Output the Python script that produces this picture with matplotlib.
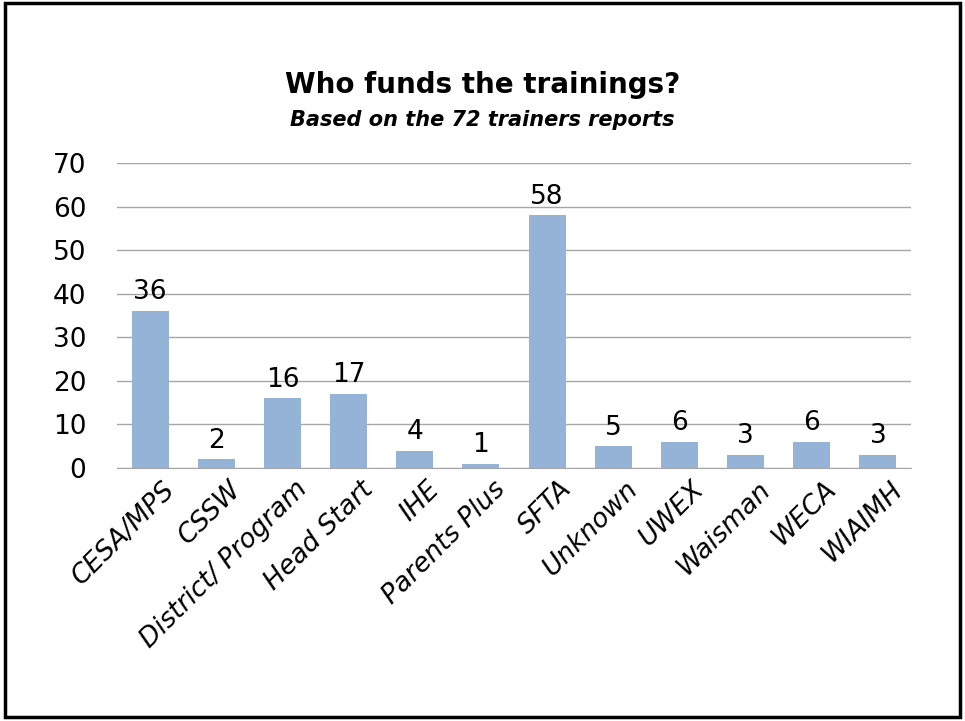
import matplotlib.pyplot as plt
import matplotlib.patches as patches
import numpy as np

categories = ["CESA/MPS", "CSSW", "District/ Program", "Head Start", "IHE",
              "Parents Plus", "SFTA", "Unknown", "UWEX", "Waisman", "WECA", "WIAIMH"]
values = [36, 2, 16, 17, 4, 1, 58, 5, 6, 3, 6, 3]
y_ticks = [0, 10, 20, 30, 40, 50, 60, 70]

plt.rcParams['font.family'] = ['DejaVu Sans']

fig = plt.figure(figsize=(9.65, 7.21), dpi=100)
ax = fig.add_axes([0.1212, 0.3509, 0.944 - 0.1212, 0.7739 - 0.3509])

x = np.arange(len(categories))
bars = ax.bar(x, values, width=0.56, color='#95B3D7', zorder=3)
for b, v in zip(bars, values):
    ax.text(b.get_x() + b.get_width() / 2, v + 1.3, str(v), ha='center', va='bottom',
            fontsize=19, color='black', zorder=4)

ax.set_xlim(-0.5, len(categories) - 0.5)
ax.set_ylim(0, 70)
ax.set_yticks(y_ticks)
ax.tick_params(axis='y', labelsize=19, length=0, pad=22)
ax.yaxis.grid(True, color='#A6A6A6', linewidth=1, zorder=0)
for s in ['top', 'right', 'left']:
    ax.spines[s].set_visible(False)
ax.spines['bottom'].set_color('#A6A6A6')

ax.set_xticks(x)
ax.set_xticklabels(categories, rotation=45, ha='right', rotation_mode='anchor',
                   fontsize=19, style='italic')
ax.tick_params(axis='x', length=0, pad=6)
for lbl in ax.get_xticklabels():
    lbl.set_x(lbl.get_position()[0])
# shift tick labels slightly right, as in the original
import matplotlib.transforms as mtransforms
offset = mtransforms.ScaledTranslation(12 / 100, 0, fig.dpi_scale_trans)
for lbl in ax.get_xticklabels():
    lbl.set_transform(lbl.get_transform() + offset)

fig.text(0.5, 0.882, "Who funds the trainings?", ha='center', va='center',
         fontsize=20, fontweight='bold')
fig.text(0.5, 0.833, "Based on the 72 trainers reports", ha='center', va='center',
         fontsize=15, fontweight='bold', style='italic')

fig.patches.append(patches.Rectangle((0.005, 0.006), 0.99, 0.99, transform=fig.transFigure,
                                     fill=False, edgecolor='black', linewidth=2.5))

fig.savefig('out.png', dpi=100)
